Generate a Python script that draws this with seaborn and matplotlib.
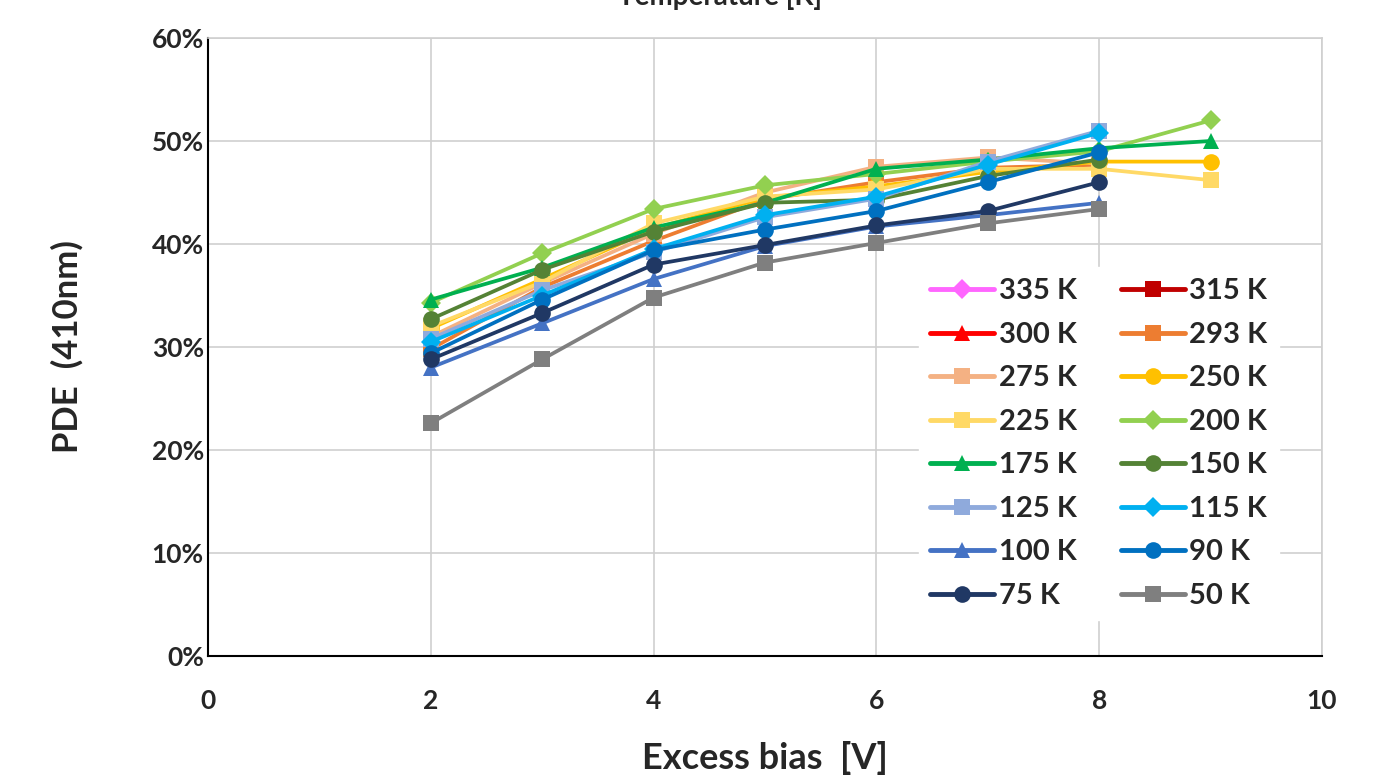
import numpy as np
import pandas as pd
import matplotlib
matplotlib.use("Agg")
import matplotlib.pyplot as plt
from matplotlib.lines import Line2D
from matplotlib.ticker import PercentFormatter, MultipleLocator
import seaborn as sns

sns.set_theme(style="white")
plt.rcParams['font.family'] = ['Lato', 'DejaVu Sans']

bias = [2, 3, 4, 5, 6, 7, 8, 9]
labels = ["335 K", "315 K", "300 K", "293 K", "275 K", "250 K", "225 K", "200 K",
          "175 K", "150 K", "125 K", "115 K", "100 K", "90 K", "75 K", "50 K"]
nan = np.nan
pde_335 = [nan] * 8
pde_315 = [nan] * 8
pde_300 = [nan] * 8
pde_293 = [29.8, 35.8, 40.3, 44.3, 46.0, 47.4, 47.7, nan]
pde_275 = [31.0, 36.2, 41.0, 45.0, 47.5, 48.4, 47.8, nan]
pde_250 = [31.8, 36.6, 41.5, 44.5, 45.6, 47.0, 48.0, 48.0]
pde_225 = [32.0, 36.3, 42.0, 44.6, 45.3, 47.3, 47.3, 46.2]
pde_200 = [34.3, 39.1, 43.4, 45.7, 46.8, 48.0, 49.0, 52.0]
pde_175 = [34.6, 37.7, 41.6, 44.0, 47.3, 48.2, 49.3, 50.0]
pde_150 = [32.7, 37.5, 41.2, 44.0, 44.3, 46.6, 48.2, nan]
pde_125 = [30.8, 35.5, 39.2, 42.6, 44.4, 48.0, 51.0, nan]
pde_115 = [30.5, 35.0, 39.5, 42.8, 44.6, 47.7, 50.8, nan]
pde_100 = [28.0, 32.3, 36.6, 39.8, 41.7, 42.8, 44.0, nan]
pde_90 = [29.4, 34.6, 39.4, 41.4, 43.2, 46.0, 48.9, nan]
pde_75 = [28.8, 33.3, 38.0, 39.9, 41.8, 43.2, 46.0, nan]
pde_50 = [22.6, 28.8, 34.8, 38.2, 40.1, 42.0, 43.4, nan]

series = [pde_335, pde_315, pde_300, pde_293, pde_275, pde_250, pde_225, pde_200,
          pde_175, pde_150, pde_125, pde_115, pde_100, pde_90, pde_75, pde_50]
colors = ["#FF66FF", "#C00000", "#FF0000", "#ED7D31", "#F4B183", "#FFC000", "#FFD966",
          "#92D050", "#00B050", "#548235", "#8FAADC", "#00B0F0", "#4472C4", "#0070C0",
          "#203864", "#7F7F7F"]
markers = ["D", "s", "^", "s", "s", "o", "s", "D", "^", "o", "s", "D", "^", "o", "o", "s"]

fig = plt.figure(figsize=(13.93, 7.78), dpi=100)
ax = fig.add_axes([208 / 1393, 1 - 656 / 778, (1322 - 208) / 1393, (656 - 38) / 778])

handles = []
for lab, vals, c, m in zip(labels, series, colors, markers):
    df = pd.DataFrame({"bias": bias, "pde": vals}).dropna()
    ms = 10 if m == "D" else 12
    if len(df):
        sns.lineplot(data=df, x="bias", y="pde", ax=ax, color=c, marker=m,
                     markersize=ms, markeredgewidth=0, linewidth=2.7, legend=False)
    handles.append(Line2D([0], [0], color=c, marker=m, markersize=ms,
                          markeredgewidth=0, linewidth=3.5, label=lab))

ax.set_xlim(0, 10)
ax.set_ylim(0, 60)
ax.xaxis.set_major_locator(MultipleLocator(2))
ax.yaxis.set_major_locator(MultipleLocator(10))
ax.yaxis.set_major_formatter(PercentFormatter(decimals=0))
ax.grid(True, color="#CFCFCF", linewidth=1.2)
for s in ["top", "right"]:
    ax.spines[s].set_color("#CFCFCF")
    ax.spines[s].set_linewidth(1.2)
for s in ["left", "bottom"]:
    ax.spines[s].set_color("black")
    ax.spines[s].set_linewidth(1.5)
ax.tick_params(axis="y", labelsize=19, pad=3, length=0)
ax.tick_params(axis="x", labelsize=19, pad=24, length=0)
for t in ax.get_xticklabels() + ax.get_yticklabels():
    t.set_fontweight("bold")
ax.set_xlabel("Excess bias  [V]", fontsize=26, fontweight="bold", labelpad=20)
ax.set_ylabel("PDE  (410nm)", fontsize=25, fontweight="bold", labelpad=49)

order = [0, 2, 4, 6, 8, 10, 12, 14, 1, 3, 5, 7, 9, 11, 13, 15]
leg = ax.legend([handles[i] for i in order], [labels[i] for i in order], ncol=2,
                loc="upper left", bbox_to_anchor=(904 / 1393, 1 - 252 / 778),
                bbox_transform=fig.transFigure, frameon=True,
                fontsize=21, handlelength=2.2, handletextpad=0.15, columnspacing=1.5,
                labelspacing=0.6, borderpad=0.4)
leg.get_frame().set_facecolor("white")
leg.get_frame().set_edgecolor("white")
leg.get_frame().set_alpha(1)
for t in leg.get_texts():
    t.set_fontweight("bold")

fig.text(0.517, 1 - 5 / 778, "Temperature [K]", ha="center", va="baseline",
         fontsize=20, fontweight="bold")

fig.savefig("out.png", dpi=100)
